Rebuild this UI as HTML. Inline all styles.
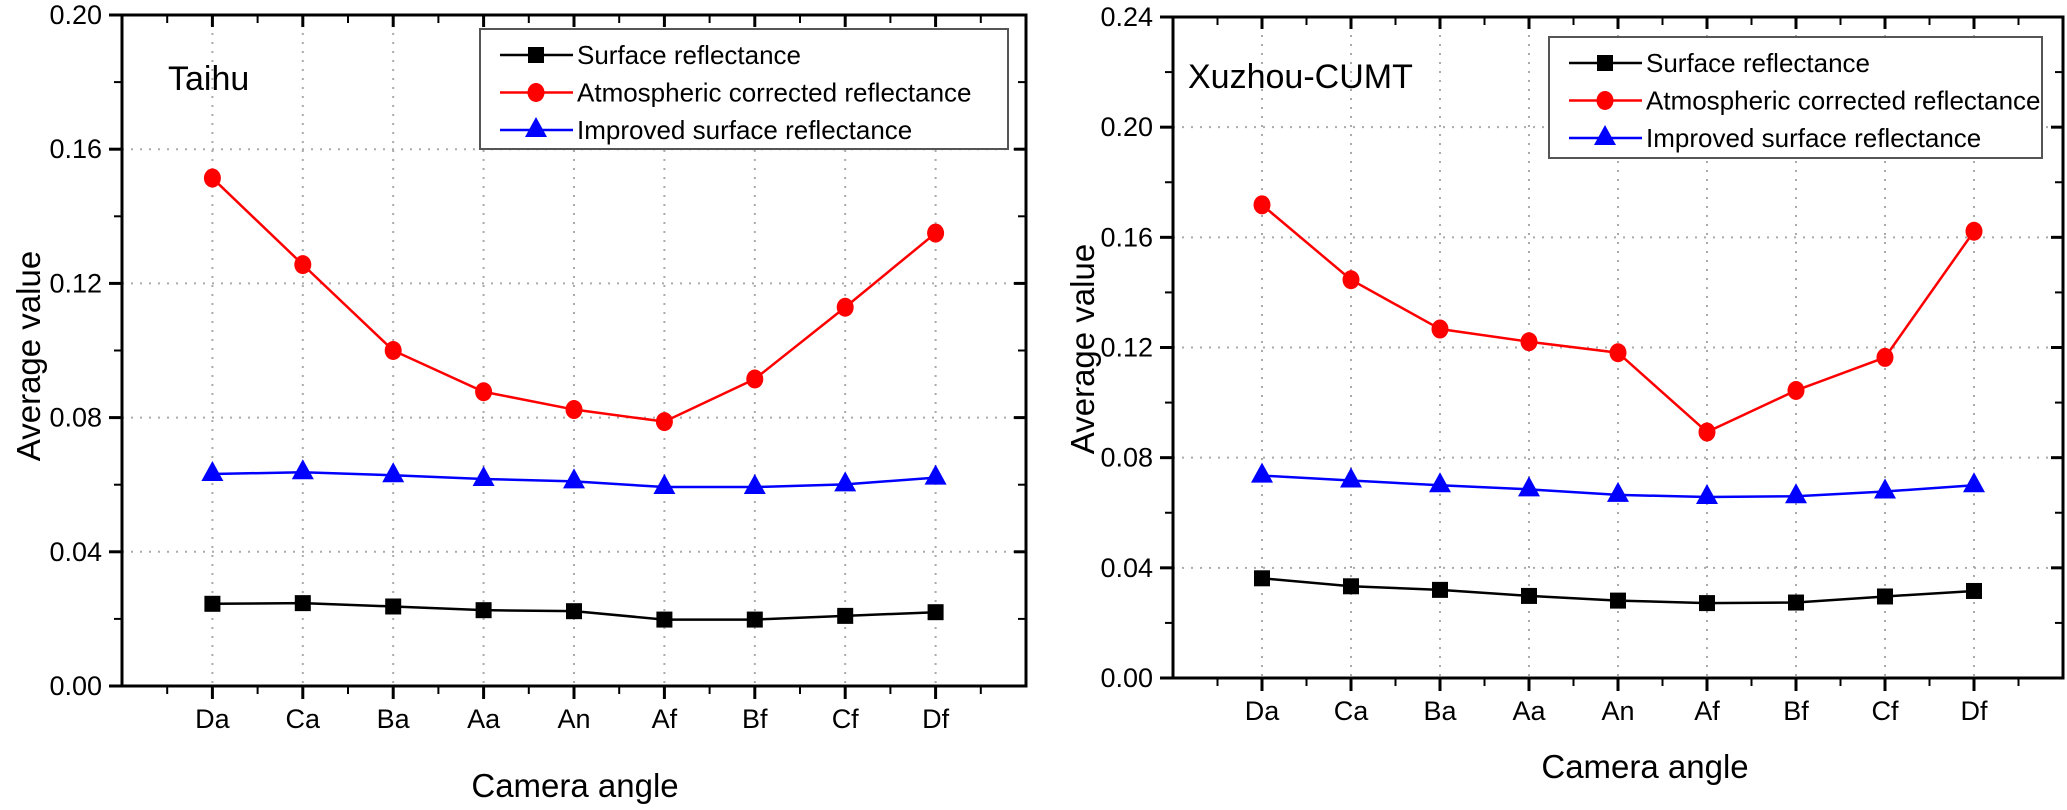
<!DOCTYPE html>
<html><head><meta charset="utf-8"><style>
html,body{margin:0;padding:0;background:#fff;}
svg{display:block;font-family:"Liberation Sans",sans-serif;}
</style></head><body>
<svg id="svg" width="2067" height="810" viewBox="0 0 2067 810" xmlns="http://www.w3.org/2000/svg"></svg>
<script>
const categories=["Da","Ca","Ba","Aa","An","Af","Bf","Cf","Df"];
const seriesNames=["Surface reflectance","Atmospheric corrected reflectance","Improved surface reflectance"];
const taihuSurface=[0.0245,0.0247,0.0237,0.0226,0.0223,0.0198,0.0198,0.0209,0.0220];
const taihuAtmos=[0.1514,0.1256,0.1000,0.0877,0.0824,0.0788,0.0915,0.1129,0.1350];
const taihuImproved=[0.0632,0.0637,0.0628,0.0617,0.0610,0.0593,0.0593,0.0601,0.0621];
const xuzhouSurface=[0.0362,0.0333,0.0320,0.0298,0.0281,0.0272,0.0274,0.0296,0.0316];
const xuzhouAtmos=[0.1718,0.1446,0.1267,0.1221,0.1181,0.0893,0.1044,0.1164,0.1622];
const xuzhouImproved=[0.0735,0.0717,0.0700,0.0685,0.0665,0.0657,0.0660,0.0677,0.0700];
const taihuTicks=["0.00","0.04","0.08","0.12","0.16","0.20"];
const xuzhouTicks=["0.00","0.04","0.08","0.12","0.16","0.20","0.24"];

const NS="http://www.w3.org/2000/svg";
const svg=document.getElementById('svg');
function mk(tag,attrs,parent){const e=document.createElementNS(NS,tag);for(const k in attrs)e.setAttribute(k,attrs[k]);(parent||svg).appendChild(e);return e;}
const colors=["#000000","#ff0000","#0000ff"];

function marker(g,type,x,y,c){
  let m;
  if(type===0){m=mk('rect',{x:x-8,y:y-8,width:16,height:16,fill:c},g);}
  else if(type===1){m=mk('ellipse',{cx:x,cy:y,rx:8.5,ry:9.5,fill:c},g);}
  else{m=mk('polygon',{points:`${x},${y-13} ${x-11},${y+7} ${x+11},${y+7}`,fill:c},g);}
  return m;
}

function drawPanel(p){
  const g=mk('g',{});
  
  
  const ymax=(p.ticks.length-1)*0.04;
  const X=i=>p.l+(i+1)*(p.r-p.l)/10;
  const Y=v=>p.b-(v/ymax)*(p.b-p.t);
  for(let i=0;i<categories.length;i++){
    const gl=mk('line',{x1:X(i),x2:X(i),y1:p.t,y2:p.b,stroke:'#aaa','stroke-width':2,'stroke-dasharray':'2,7'},g);
    
    
  }
  p.ticks.forEach((t,i)=>{
    const v=i*0.04;
    if(i>0&&i<p.ticks.length-1){
      const gl=mk('line',{x1:p.l,x2:p.r,y1:Y(v),y2:Y(v),stroke:'#aaa','stroke-width':2,'stroke-dasharray':'2,7'},g);
      
      
    }
    mk('line',{x1:p.l-13,x2:p.l,y1:Y(v),y2:Y(v),stroke:'#000','stroke-width':3},g);
    mk('line',{x1:p.r-12,x2:p.r,y1:Y(v),y2:Y(v),stroke:'#000','stroke-width':3},g);
    const tl=mk('text',{x:p.l-20,y:Y(v)+9,'text-anchor':'end','font-size':27},g);
    tl.textContent=t;
    
    
    if(i<p.ticks.length-1){
      const vm=v+0.02;
      mk('line',{x1:p.l-8,x2:p.l,y1:Y(vm),y2:Y(vm),stroke:'#000','stroke-width':2},g);
      mk('line',{x1:p.r-8,x2:p.r,y1:Y(vm),y2:Y(vm),stroke:'#000','stroke-width':2},g);
    }
  });
  for(let k=1;k<20;k++){
    const x=p.l+k*(p.r-p.l)/20;
    const major=k%2===0&&k<20;
    mk('line',{x1:x,x2:x,y1:p.b,y2:p.b+(major?13:8),stroke:'#000','stroke-width':major?3:2},g);
    mk('line',{x1:x,x2:x,y1:p.t,y2:p.t+(major?12:8),stroke:'#000','stroke-width':major?3:2},g);
  }
  categories.forEach((c,i)=>{
    const tl=mk('text',{x:X(i),y:p.b+42,'text-anchor':'middle','font-size':27},g);
    tl.textContent=c;
    
    
  });
  const fr=mk('rect',{x:p.l,y:p.t,width:p.r-p.l,height:p.b-p.t,fill:'none',stroke:'#000','stroke-width':3},g);
  
  
  p.series.forEach((vals,s)=>{
    const pts=vals.map((v,i)=>X(i)+','+Y(v)).join(' ');
    const pl=mk('polyline',{points:pts,fill:'none',stroke:colors[s],'stroke-width':2.5},g);
    
    
    vals.forEach((v,i)=>{
      const m=marker(g,s,X(i),Y(v),colors[s]);
      
      
    });
  });
  const tt=mk('text',{x:p.titleX,y:p.titleY,'font-size':34},g);
  tt.textContent=p.title;
  
  
  const yt=mk('text',{x:p.yTitleX,y:p.yTitleY,'text-anchor':'middle','font-size':33,transform:`rotate(-90 ${p.yTitleX} ${p.yTitleY})`},g);
  yt.textContent='Average value';
  
  
  const xt=mk('text',{x:p.xTitleX,y:p.xTitleY,'text-anchor':'middle','font-size':33},g);
  xt.textContent='Camera angle';
  
  
  const lg=mk('g',{},g);
  
  
  mk('rect',{x:p.lg[0],y:p.lg[1],width:p.lg[2],height:p.lg[3],fill:'#fff',stroke:'#555','stroke-width':2},lg);
  seriesNames.forEach((n,s)=>{
    const y=p.lg[1]+26+s*37.5;
    const x0=p.lg[0]+20;
    const e=mk('g',{},lg);
    
    
    mk('line',{x1:x0,x2:x0+73,y1:y,y2:y,stroke:colors[s],'stroke-width':2.5},e);
    marker(e,s,x0+36,y,colors[s]);
    const t=mk('text',{x:x0+77,y:y+9,'font-size':26},e);
    t.textContent=n;
  });
}
drawPanel({id:'taihu',l:122,r:1026,t:15,b:686,ticks:taihuTicks,series:[taihuSurface,taihuAtmos,taihuImproved],
  title:'Taihu',titleX:168,titleY:90,yTitleX:40,yTitleY:356,xTitleX:575,xTitleY:797,lg:[480,29,528,120]});
drawPanel({id:'xuzhou',l:1173,r:2063,t:17,b:678,ticks:xuzhouTicks,series:[xuzhouSurface,xuzhouAtmos,xuzhouImproved],
  title:'Xuzhou-CUMT',titleX:1188,titleY:88,yTitleX:1094,yTitleY:349,xTitleX:1645,xTitleY:778,lg:[1549,37,493,121]});
</script>
</body></html>
